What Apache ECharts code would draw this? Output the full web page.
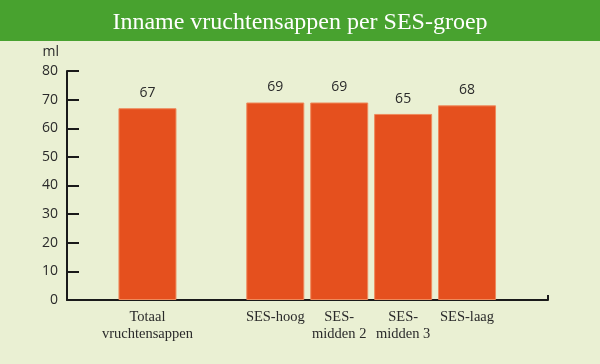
<!DOCTYPE html>
<html>
<head>
<meta charset="utf-8">
<script src="https://cdn.jsdelivr.net/npm/echarts@6/dist/echarts.min.js"></script>
<style>
html,body{margin:0;padding:0;background:#eaf0d3;}
#c{width:600px;height:364px;}
</style>
</head>
<body>
<div id="c"></div>
<script>
const titleText = 'Inname vruchtensappen per SES-groep';
const categories = ['Totaal\nvruchtensappen', '', 'SES-hoog', 'SES-\nmidden 2', 'SES-\nmidden 3', 'SES-laag'];
const values = [67, null, 69, 69, 65, 68];
const yTicks = { min: 0, max: 80, interval: 10 };
const yUnit = 'ml';

const chart = echarts.init(document.getElementById('c'), null, { renderer: 'canvas' });
const serif = '"Liberation Serif","DejaVu Serif",serif';
const sans = '"Open Sans","Noto Sans","DejaVu Sans",sans-serif';
chart.setOption({
  animation: false,
  backgroundColor: '#eaf0d3',
  graphic: [{
    type: 'rect', left: 0, top: 0, z: -1,
    shape: { width: 600, height: 41 },
    style: { fill: '#48a22f' }
  }],
  title: {
    text: titleText, left: 'center', top: 6,
    textStyle: { color: '#ffffff', fontFamily: serif, fontSize: 24, fontWeight: 'normal' }
  },
  grid: [
    { left: 115.5, right: 101, top: 71, bottom: 64 },
    { left: 67, right: 52, top: 71, bottom: 64 }
  ],
  xAxis: [
    {
      type: 'category', gridIndex: 0, data: categories,
      axisLine: { show: false }, axisTick: { show: false },
      axisLabel: { color: '#2a2a2a', fontFamily: serif, fontSize: 14.5, lineHeight: 17, margin: 9, interval: 0 }
    },
    {
      type: 'value', gridIndex: 1, min: 0, max: 1, interval: 1,
      axisLine: { show: true, lineStyle: { color: '#1a1a1a', width: 2 } },
      axisTick: { show: true, inside: true, length: 5, lineStyle: { color: '#1a1a1a', width: 2 } },
      axisLabel: { show: false }, splitLine: { show: false }
    }
  ],
  yAxis: [
    {
      type: 'value', gridIndex: 0, min: yTicks.min, max: yTicks.max, interval: yTicks.interval,
      show: false
    },
    {
      type: 'value', gridIndex: 1, min: yTicks.min, max: yTicks.max, interval: yTicks.interval,
      name: yUnit, nameLocation: 'end', nameGap: 12,
      nameTextStyle: { color: '#2a2a2a', fontFamily: sans, fontSize: 14, align: 'right', padding: [0, 8, 0, 0] },
      axisLine: { show: true, lineStyle: { color: '#1a1a1a', width: 2 } },
      axisTick: { show: true, inside: true, length: 12, lineStyle: { color: '#1a1a1a', width: 2 } },
      axisLabel: { color: '#2a2a2a', fontFamily: sans, fontSize: 14, margin: 9, padding: [5, 0, 0, 0] },
      splitLine: { show: false }
    }
  ],
  series: [{
    type: 'bar', xAxisIndex: 0, yAxisIndex: 0,
    data: values, barWidth: 58,
    itemStyle: { color: '#e5501e', borderColor: '#ee8a5c', borderWidth: 1 },
    label: { show: true, position: 'top', distance: 8, color: '#2a2a2a', fontFamily: sans, fontSize: 14 }
  }]
});
</script>
</body>
</html>
